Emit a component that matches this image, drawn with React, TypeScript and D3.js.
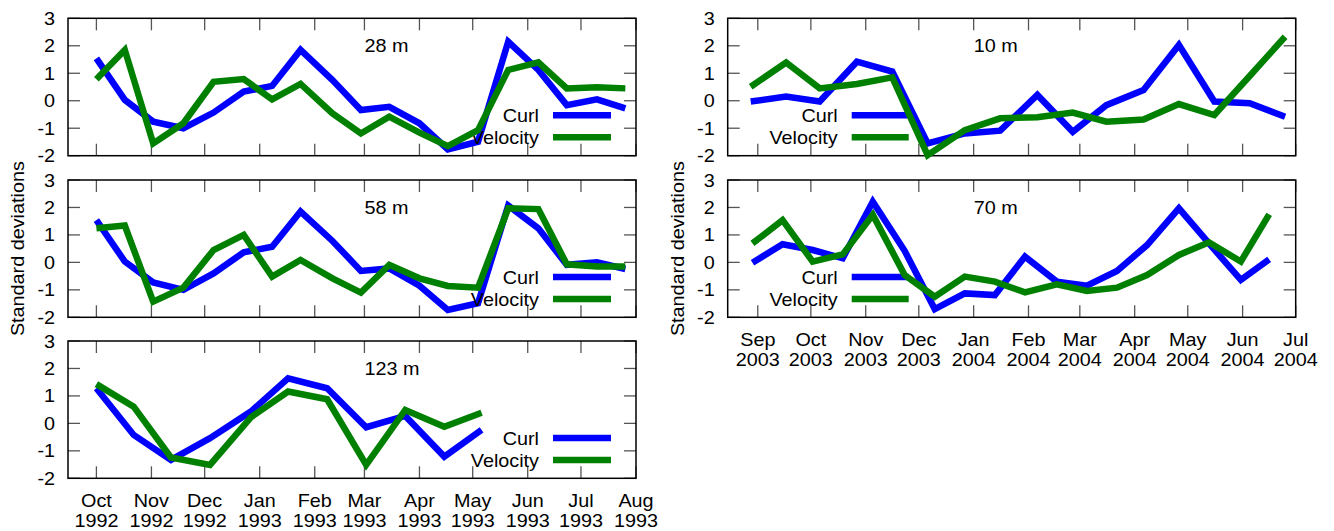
import React from "react";
import * as d3 from "d3";

// ---------- data ----------
const datesUpper1992 = [
  "1992-10-01", "1992-10-17", "1992-11-02", "1992-11-19", "1992-12-06", "1992-12-23",
  "1993-01-08", "1993-01-24", "1993-02-11", "1993-02-27", "1993-03-15", "1993-04-01",
  "1993-04-17", "1993-05-04", "1993-05-21", "1993-06-07", "1993-06-23", "1993-07-10", "1993-07-26",
];
const curl28 = [1.54, 0.03, -0.76, -1.0, -0.43, 0.33, 0.54, 1.85, 0.75, -0.34, -0.22, -0.82, -1.77, -1.49, 2.15, 1.12, -0.16, 0.05, -0.28];
const vel28 = [0.78, 1.85, -1.55, -0.82, 0.69, 0.79, 0.05, 0.61, -0.46, -1.19, -0.58, -1.16, -1.65, -1.07, 1.12, 1.4, 0.45, 0.49, 0.45];
const curl58 = [1.54, 0.03, -0.73, -1.0, -0.4, 0.37, 0.57, 1.85, 0.78, -0.31, -0.22, -0.85, -1.73, -1.49, 2.07, 1.24, -0.09, 0.0, -0.24];
const vel58 = [1.24, 1.34, -1.43, -0.92, 0.45, 1.0, -0.52, 0.09, -0.58, -1.1, -0.09, -0.58, -0.86, -0.92, 1.97, 1.94, -0.07, -0.15, -0.15];

const dates123 = [
  "1992-10-01", "1992-10-22", "1992-11-12", "1992-12-04", "1992-12-27", "1993-01-17",
  "1993-02-08", "1993-03-02", "1993-03-24", "1993-04-15", "1993-05-06",
];
const curl123 = [1.28, -0.42, -1.33, -0.54, 0.43, 1.64, 1.28, -0.14, 0.27, -1.21, -0.24];
const vel123 = [1.43, 0.61, -1.24, -1.51, 0.22, 1.16, 0.88, -1.51, 0.49, -0.12, 0.39];

const dates10 = [
  "2003-08-28", "2003-09-17", "2003-10-06", "2003-10-27", "2003-11-16", "2003-12-06",
  "2003-12-27", "2004-01-16", "2004-02-06", "2004-02-26", "2004-03-16", "2004-04-06",
  "2004-04-26", "2004-05-16", "2004-06-05", "2004-06-25",
];
const curl10 = [-0.03, 0.15, -0.03, 1.42, 1.06, -1.55, -1.19, -1.09, 0.21, -1.13, -0.16, 0.39, 2.03, -0.03, -0.09, -0.58];
const vel10 = [0.51, 1.39, 0.45, 0.61, 0.85, -1.98, -1.07, -0.64, -0.6, -0.43, -0.76, -0.68, -0.12, -0.52, 0.9, 2.33];

const dates70 = [
  "2003-08-29", "2003-09-15", "2003-10-02", "2003-10-19", "2003-11-05", "2003-11-23",
  "2003-12-10", "2003-12-27", "2004-01-13", "2004-01-30", "2004-02-17", "2004-03-05",
  "2004-03-22", "2004-04-08", "2004-04-26", "2004-05-13", "2004-05-31", "2004-06-16",
];
const curl70 = [-0.01, 0.66, 0.45, 0.15, 2.21, 0.42, -1.7, -1.13, -1.19, 0.21, -0.7, -0.85, -0.31, 0.63, 1.97, 0.69, -0.64, 0.11];
const vel70 = [0.69, 1.54, 0.03, 0.29, 1.73, -0.46, -1.25, -0.52, -0.7, -1.09, -0.8, -1.04, -0.92, -0.46, 0.27, 0.73, 0.03, 1.75];

const yTicks = [-2, -1, 0, 1, 2, 3];
const seriesNames = ["Curl", "Velocity"];
const yAxisTitle = "Standard deviations";

const leftDomain = ["1992-09-15", "1993-08-01"];
const rightDomain = ["2003-08-15", "2004-07-01"];
const leftLabelDate = "1993-03-01";
const rightLabelDate = "2004-01-01";

// ---------- style ----------
const FONT = "'Liberation Sans', Arial, Helvetica, sans-serif";
const FS = 18;
const SX = 1.1;
const BLUE = "#0000ff";
const GREEN = "#008000";
const LW = 6.5;

const parse = d3.utcParse("%Y-%m-%d");

type PanelProps = {
  x0: number; x1: number; y0: number; y1: number;
  domain: string[];
  dates: string[];
  curl: number[];
  vel: number[];
  title: string;
  titleDate: string;
  xLabels: boolean;
  yTitle: boolean;
  legendLeftSide: boolean;
};

function T(props: { x: number; y: number; anchor?: string; rotate?: number; children: React.ReactNode }) {
  const { x, y, anchor = "start", rotate = 0, children } = props;
  return (
    <text
      transform={`translate(${x},${y})${rotate ? ` rotate(${rotate})` : ""} scale(${SX},1)`}
      textAnchor={anchor}
      fontFamily={FONT}
      fontSize={FS}
      fill="#000"
    >
      {children}
    </text>
  );
}

function Panel(p: PanelProps) {
  const x = d3.scaleUtc().domain([parse(p.domain[0])!, parse(p.domain[1])!]).range([p.x0, p.x1]);
  const y = d3.scaleLinear().domain([-2, 3]).range([p.y1, p.y0]);
  const months = d3.utcMonth.range(d3.utcMonth.ceil(x.domain()[0]), d3.utcMonth.offset(x.domain()[1], 1)).filter(
    (m) => m <= x.domain()[1]
  );
  const line = d3
    .line<[Date, number]>()
    .x((d) => x(d[0]))
    .y((d) => y(d[1]));
  const pts = (vals: number[]) => vals.map((v, i) => [parse(p.dates[i])!, v] as [Date, number]);
  const fmtM = d3.utcFormat("%b");
  const fmtY = d3.utcFormat("%Y");
  const TL = 12;

  const legTextX = p.legendLeftSide ? p.x0 + 110 : p.x1 - 97;
  const legLineA = p.legendLeftSide ? p.x0 + 124 : p.x1 - 83;
  const legLineB = p.legendLeftSide ? p.x0 + 181 : p.x1 - 25;
  const legY = [p.y0 + 97, p.y0 + 119];

  return (
    <g>
      {/* ticks */}
      <g stroke="#555" strokeWidth={1.3}>
        {yTicks.map((t) => (
          <g key={"y" + t}>
            <line x1={p.x0} x2={p.x0 + TL} y1={y(t)} y2={y(t)} />
            <line x1={p.x1} x2={p.x1 - TL} y1={y(t)} y2={y(t)} />
          </g>
        ))}
        {months.map((m) => (
          <g key={"x" + m.getTime()}>
            <line x1={x(m)} x2={x(m)} y1={p.y1} y2={p.y1 - TL} />
            <line x1={x(m)} x2={x(m)} y1={p.y0} y2={p.y0 + TL} />
          </g>
        ))}
      </g>
      <rect x={p.x0} y={p.y0} width={p.x1 - p.x0} height={p.y1 - p.y0} fill="none" stroke="#000" strokeWidth={1.5} />
      {/* y tick labels */}
      {yTicks.map((t) => (
        <T key={"yl" + t} x={p.x0 - 13} y={y(t) + 6.5} anchor="end">
          {String(t)}
        </T>
      ))}
      {p.xLabels &&
        months.map((m) => (
          <g key={"xl" + m.getTime()}>
            <T x={x(m)} y={p.y1 + 28.5} anchor="middle">
              {fmtM(m)}
            </T>
            <T x={x(m)} y={p.y1 + 48.5} anchor="middle">
              {fmtY(m)}
            </T>
          </g>
        ))}
      {p.yTitle && (
        <T x={p.x0 - 44} y={(p.y0 + p.y1) / 2} anchor="middle" rotate={-90}>
          {yAxisTitle}
        </T>
      )}
      <T x={x(parse(p.titleDate)!)} y={y(2) + 6.5}>
        {p.title}
      </T>
      {/* curl: key then line */}
      <T x={legTextX} y={legY[0] + 6.5} anchor="end">
        {seriesNames[0]}
      </T>
      <line x1={legLineA} x2={legLineB} y1={legY[0]} y2={legY[0]} stroke={BLUE} strokeWidth={LW} />
      <path d={line(pts(p.curl)) || ""} fill="none" stroke={BLUE} strokeWidth={LW} strokeLinejoin="miter" strokeMiterlimit={2.5} />
      {/* velocity */}
      <T x={legTextX} y={legY[1] + 6.5} anchor="end">
        {seriesNames[1]}
      </T>
      <line x1={legLineA} x2={legLineB} y1={legY[1]} y2={legY[1]} stroke={GREEN} strokeWidth={LW} />
      <path d={line(pts(p.vel)) || ""} fill="none" stroke={GREEN} strokeWidth={LW} strokeLinejoin="miter" strokeMiterlimit={2.5} />
    </g>
  );
}

export default function App() {
  const L = { x0: 68, x1: 636 };
  const R = { x0: 727.7, x1: 1295.7 };
  const rows = [
    { y0: 18.3, y1: 155.7 },
    { y0: 180, y1: 317.3 },
    { y0: 341, y1: 478.3 },
  ];
  return (
    <svg width={1334} height={531} style={{ position: "absolute", left: 0, top: 0, background: "#fff" }}>
      <rect width={1334} height={531} fill="#fff" />
      <Panel {...L} {...rows[0]} domain={leftDomain} dates={datesUpper1992} curl={curl28} vel={vel28}
        title="28 m" titleDate={leftLabelDate} xLabels={false} yTitle={false} legendLeftSide={false} />
      <Panel {...L} {...rows[1]} domain={leftDomain} dates={datesUpper1992} curl={curl58} vel={vel58}
        title="58 m" titleDate={leftLabelDate} xLabels={false} yTitle={true} legendLeftSide={false} />
      <Panel {...L} {...rows[2]} domain={leftDomain} dates={dates123} curl={curl123} vel={vel123}
        title="123 m" titleDate={leftLabelDate} xLabels={true} yTitle={false} legendLeftSide={false} />
      <Panel {...R} {...rows[0]} domain={rightDomain} dates={dates10} curl={curl10} vel={vel10}
        title="10 m" titleDate={rightLabelDate} xLabels={false} yTitle={false} legendLeftSide={true} />
      <Panel {...R} {...rows[1]} domain={rightDomain} dates={dates70} curl={curl70} vel={vel70}
        title="70 m" titleDate={rightLabelDate} xLabels={true} yTitle={true} legendLeftSide={true} />
    </svg>
  );
}
